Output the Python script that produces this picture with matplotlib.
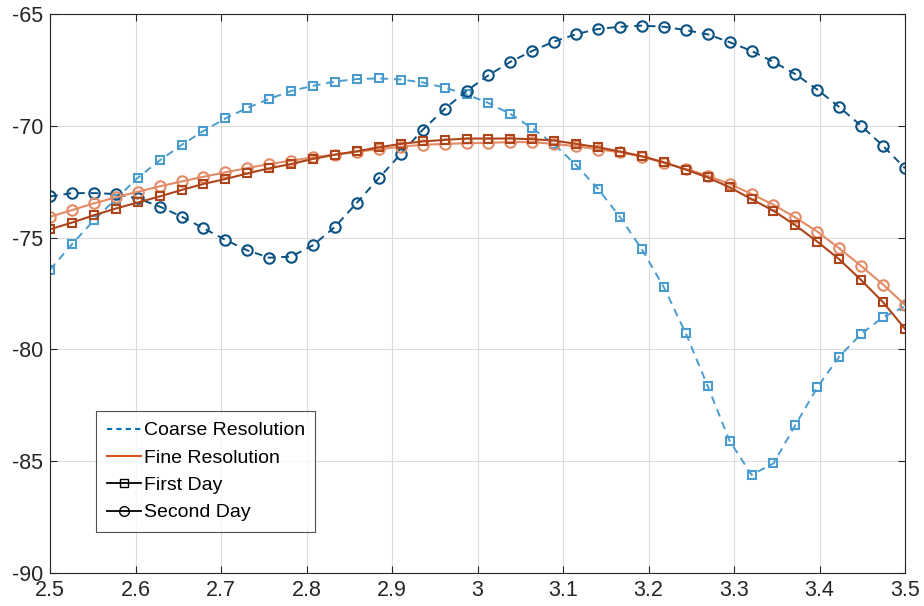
import numpy as np
import matplotlib
matplotlib.use('Agg')
import matplotlib.pyplot as plt
from matplotlib.lines import Line2D

plt.rcParams['font.family'] = ['Liberation Sans', 'DejaVu Sans']
plt.rcParams['axes.unicode_minus'] = False

# 40 samples between 2.5 and 3.5
x = np.linspace(2.5, 3.5, 40)

coarse_first = [-76.43, -75.30, -74.23, -73.27, -72.33, -71.55, -70.86, -70.23, -69.67, -69.20,
                -68.80, -68.44, -68.21, -68.02, -67.91, -67.88, -67.93, -68.06, -68.29, -68.60,
                -68.98, -69.47, -70.11, -70.83, -71.76, -72.82, -74.08, -75.53, -77.22, -79.28,
                -81.64, -84.09, -85.61, -85.10, -83.38, -81.70, -80.32, -79.31, -78.56, -78.08]

coarse_second = [-73.16, -73.01, -73.01, -73.05, -73.25, -73.61, -74.06, -74.58, -75.10, -75.57,
                 -75.90, -75.85, -75.34, -74.52, -73.44, -72.34, -71.26, -70.18, -69.25, -68.44,
                 -67.74, -67.14, -66.65, -66.23, -65.90, -65.67, -65.57, -65.52, -65.57, -65.72,
                 -65.91, -66.26, -66.65, -67.14, -67.69, -68.38, -69.16, -70.00, -70.90, -71.90]

fine_first = [-74.63, -74.33, -74.00, -73.70, -73.43, -73.16, -72.87, -72.60, -72.38, -72.13,
              -71.90, -71.71, -71.48, -71.29, -71.14, -70.96, -70.81, -70.70, -70.63, -70.57,
              -70.57, -70.57, -70.60, -70.66, -70.81, -70.96, -71.15, -71.36, -71.63, -71.96,
              -72.31, -72.75, -73.28, -73.80, -74.45, -75.18, -75.97, -76.90, -77.89, -79.08]

fine_second = [-74.07, -73.77, -73.47, -73.20, -72.95, -72.71, -72.49, -72.28, -72.08, -71.89,
               -71.71, -71.56, -71.41, -71.29, -71.16, -71.05, -70.93, -70.85, -70.81, -70.78,
               -70.76, -70.73, -70.73, -70.81, -70.91, -71.06, -71.18, -71.38, -71.66, -71.93,
               -72.23, -72.60, -73.05, -73.53, -74.10, -74.73, -75.48, -76.27, -77.10, -78.01]

fig = plt.figure(figsize=(9.24, 6.06), dpi=100)
ax = fig.add_axes([50 / 924, 1 - 573 / 606, 855 / 924, 559 / 606])

dash = (0, (4, 3))
ax.plot(x, coarse_first, color='#4a9ccf', ls=dash, lw=1.4, marker='s', ms=6,
        mfc='none', mew=1.5)
ax.plot(x, coarse_second, color='#0b5283', ls=dash, lw=1.4, marker='o', ms=7.5,
        mfc='none', mew=1.5)
ax.plot(x, fine_second, color='#e38b66', ls='-', lw=1.5, marker='o', ms=7.5,
        mfc='none', mew=1.5)
ax.plot(x, fine_first, color='#ae441a', ls='-', lw=1.5, marker='s', ms=6,
        mfc='none', mew=1.5)

ax.set_xlim(2.5, 3.5)
ax.set_ylim(-90, -65)
ax.set_xticks(np.arange(2.5, 3.51, 0.1))
ax.set_xticklabels(['2.5', '2.6', '2.7', '2.8', '2.9', '3', '3.1', '3.2', '3.3', '3.4', '3.5'])
ax.set_yticks([-90, -85, -80, -75, -70, -65])
ax.grid(True, color='#dcdcdc', lw=0.8)
ax.set_axisbelow(True)
ax.tick_params(direction='in', top=True, right=True, labelsize=15.5, colors='#262626',
               length=5, width=0.8)
ax.tick_params(axis='x', pad=5)
ax.tick_params(axis='y', pad=5)
for s in ax.spines.values():
    s.set_color('#262626')
    s.set_linewidth(0.8)

handles = [
    Line2D([], [], color='#0072bd', ls=(0, (2.5, 2)), lw=1.5),
    Line2D([], [], color='#d95319', ls='-', lw=1.5),
    Line2D([], [], color='black', ls='-', lw=1.3, marker='s', ms=6, mfc='none'),
    Line2D([], [], color='black', ls='-', lw=1.3, marker='o', ms=7, mfc='none'),
]
labels = ['Coarse Resolution', 'Fine Resolution', 'First Day', 'Second Day']
leg = ax.legend(handles, labels, loc='lower left', bbox_to_anchor=(46 / 855, 41 / 559),
                fontsize=14, frameon=True, fancybox=False, handlelength=1.75,
                handletextpad=0.15, borderpad=0.55, labelspacing=0.5, borderaxespad=0)
leg.get_frame().set_edgecolor('#262626')
leg.get_frame().set_linewidth(0.8)

fig.savefig('out.png', dpi=100)
